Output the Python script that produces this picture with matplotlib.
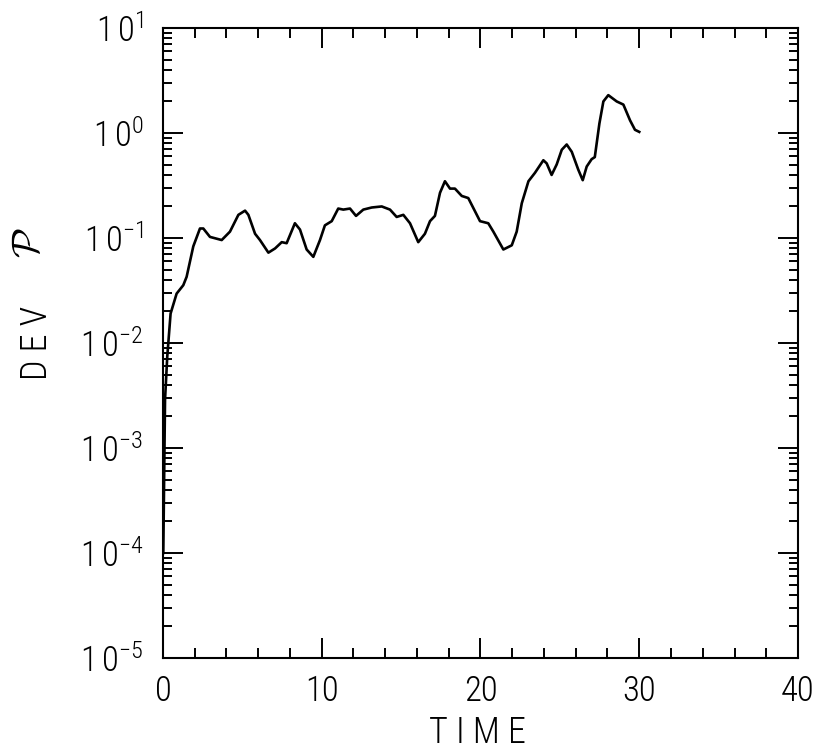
import numpy as np
import matplotlib
matplotlib.use("Agg")
import matplotlib.pyplot as plt
from matplotlib.ticker import LogLocator, MultipleLocator, NullFormatter

plt.rcParams['font.family'] = ['Roboto Condensed', 'Roboto', 'DejaVu Sans']
plt.rcParams['font.weight'] = 'light'
plt.rcParams['mathtext.fontset'] = 'custom'
plt.rcParams['mathtext.rm'] = 'Roboto Condensed:light'
plt.rcParams['mathtext.it'] = 'Roboto Condensed:light'

# time and log10 of the deviation
time = [0.02, 0.13, 0.27, 0.48, 0.86, 1.28, 1.49, 1.91, 2.33, 2.54, 2.96, 3.70,
        4.22, 4.75, 5.17, 5.38, 5.80, 6.11, 6.64, 7.06, 7.48, 7.79, 8.31, 8.63,
        9.05, 9.47, 9.89, 10.2, 10.63, 11.04, 11.36, 11.78, 12.16, 12.62, 13.15,
        13.78, 14.30, 14.72, 15.14, 15.56, 16.08, 16.50, 16.82, 17.13, 17.45,
        17.76, 18.08, 18.39, 18.82, 19.23, 19.97, 20.49, 20.81, 21.44, 21.97,
        22.28, 22.60, 23.02, 23.43, 23.96, 24.17, 24.48, 24.80, 25.12, 25.43,
        25.75, 26.16, 26.44, 26.69, 27.0, 27.2, 27.49, 27.74, 28.05, 28.58,
        29.0, 29.42, 29.73, 30.0]
log_dev = [-4.0, -2.54, -2.13, -1.72, -1.53, -1.45, -1.37, -1.08, -0.91, -0.91,
           -0.99, -1.02, -0.94, -0.78, -0.74, -0.78, -0.96, -1.02, -1.14, -1.10,
           -1.04, -1.05, -0.86, -0.92, -1.11, -1.18, -1.02, -0.88, -0.84, -0.72,
           -0.73, -0.72, -0.79, -0.73, -0.71, -0.70, -0.73, -0.80, -0.78, -0.86,
           -1.04, -0.96, -0.84, -0.79, -0.57, -0.46, -0.53, -0.53, -0.60, -0.62,
           -0.84, -0.86, -0.94, -1.11, -1.07, -0.94, -0.67, -0.46, -0.38, -0.26,
           -0.29, -0.40, -0.30, -0.16, -0.11, -0.18, -0.35, -0.45, -0.32, -0.25,
           -0.23, 0.09, 0.30, 0.36, 0.30, 0.27, 0.12, 0.03, 0.01]

x_ticks = [0, 10, 20, 30, 40]
y_exps = [-5, -4, -3, -2, -1, 0, 1]

dev = 10 ** np.array(log_dev)

fig = plt.figure(figsize=(8.21, 7.55), dpi=100)
ax = fig.add_axes([0.1985, 0.1285, 0.7735, 0.8345])

ax.plot(time, dev, color='black', lw=1.9, solid_joinstyle='round')

ax.set_yscale('log')
ax.set_xlim(0, 40)
ax.set_ylim(1e-5, 1e1)

ax.xaxis.set_minor_locator(MultipleLocator(2))
ax.set_xticks(x_ticks)
ax.set_xticklabels([str(v) for v in x_ticks])

ax.yaxis.set_minor_locator(LogLocator(base=10, subs=np.arange(2, 10), numticks=20))
ax.set_yticks([10.0 ** e for e in y_exps])
ax.set_yticklabels([r'$\mathregular{1\,0^{%d}}$' % e for e in y_exps])
ax.yaxis.set_minor_formatter(NullFormatter())

for side in ax.spines.values():
    side.set_linewidth(1.5)

ax.tick_params(which='both', direction='in', top=True, right=True, width=1.4, colors='black')
ax.tick_params(which='major', length=14.5)
ax.tick_params(which='minor', length=6.8)
ax.tick_params(axis='x', which='minor', length=7.2)
ax.tick_params(axis='x', which='major', labelsize=25, pad=12)
ax.tick_params(axis='y', which='major', labelsize=25, pad=14)
for lab in ax.get_yticklabels():
    lab.set_verticalalignment('center_baseline')

fig.text(0.582, 1 - 733 / 755, 'T I M E', ha='center', va='center', fontsize=26)
fig.text(37 / 821, 1 - 343 / 755, 'D E V', ha='center', va='center', rotation=90, fontsize=26)
fig.text(28 / 821, 1 - 243 / 755, r'$\mathcal{P}$', ha='center', va='center', rotation=90,
         fontsize=28, math_fontfamily='cm')

fig.savefig('out.png', dpi=100, facecolor='white')
